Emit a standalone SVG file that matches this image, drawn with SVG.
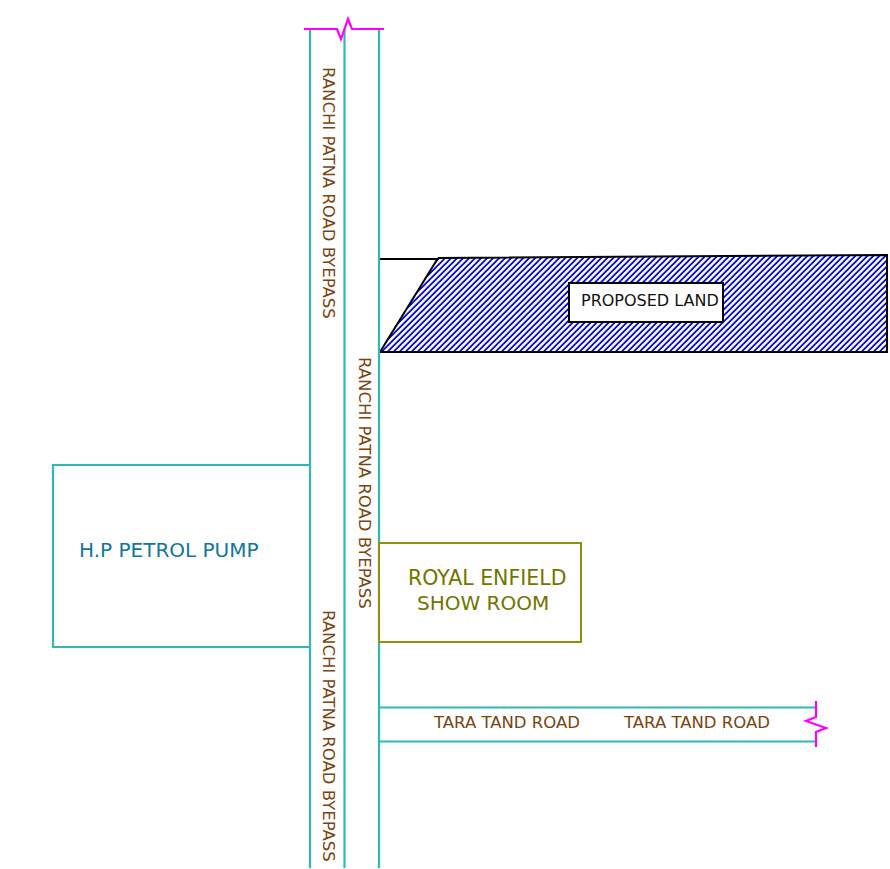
<svg xmlns="http://www.w3.org/2000/svg" width="890" height="869" viewBox="0 0 890 869">
<style>
.road{fill:none;stroke:#2fb8b4;stroke-width:2.200}
.brk{fill:none;stroke:#ff00ff;stroke-width:2.200}
.t{font-family:"DejaVu Sans",Verdana,sans-serif}
.rd{font-size:16.500px;fill:#7a4410}
</style>
<defs>
<pattern id="hatch" patternUnits="userSpaceOnUse" width="6" height="6">
<rect width="6" height="6" fill="#fff"/>
<path d="M0 0H2.600L0 2.600ZM6 0V2.600L2.600 6H0Z" fill="#0000ff"/>
</pattern>
</defs>
<rect width="890" height="869" fill="#fff"/>
<g id="proposed-land">
<path d="M438 258L887 255V352H380Z" fill="url(#hatch)"/>
<path d="M379 259H438M438 258L887 255V352H380L438 258" fill="none" stroke="#000" stroke-width="2"/>
<rect x="569" y="283" width="154" height="39" fill="#fff" stroke="#000" stroke-width="2"/>
<text class="t" x="581" y="306" font-size="16" fill="#111">PROPOSED LAND</text>
</g>
<g id="connectors">
<path class="road" d="M310 29V868"/>
<path class="road" d="M344.500 29V868"/>
<path class="road" d="M379 29V868"/>
<path class="road" d="M379 707.500H816"/>
<path class="road" d="M379 741.500H816"/>
<path class="brk" d="M304 29H337L341 39L348 19L352 29H384"/>
<path class="brk" d="M816 701V717L806 721L826 728L816 732V747"/>
</g>
<g id="petrol-pump">
<path class="road" d="M310 465H53V647H310"/>
<text class="t" x="79" y="557" font-size="20" fill="#10769c">H.P PETROL PUMP</text>
</g>
<g id="royal-enfield">
<rect x="379" y="543" width="202" height="99" fill="#fff" stroke="#8f8f10" stroke-width="2"/>
<text class="t" x="408" y="585" font-size="20.500" fill="#737300">ROYAL ENFIELD</text>
<text class="t" x="417" y="610" font-size="20" fill="#737300">SHOW ROOM</text>
</g>
<g id="road-labels">
<text class="t rd" transform="translate(322.500 67) rotate(90)">RANCHI PATNA ROAD BYEPASS</text>
<text class="t rd" transform="translate(359 357) rotate(90)">RANCHI PATNA ROAD BYEPASS</text>
<text class="t rd" transform="translate(322.500 610) rotate(90)">RANCHI PATNA ROAD BYEPASS</text>
<text class="t rd" x="434" y="728">TARA TAND ROAD</text>
<text class="t rd" x="624" y="728">TARA TAND ROAD</text>
</g>
</svg>
